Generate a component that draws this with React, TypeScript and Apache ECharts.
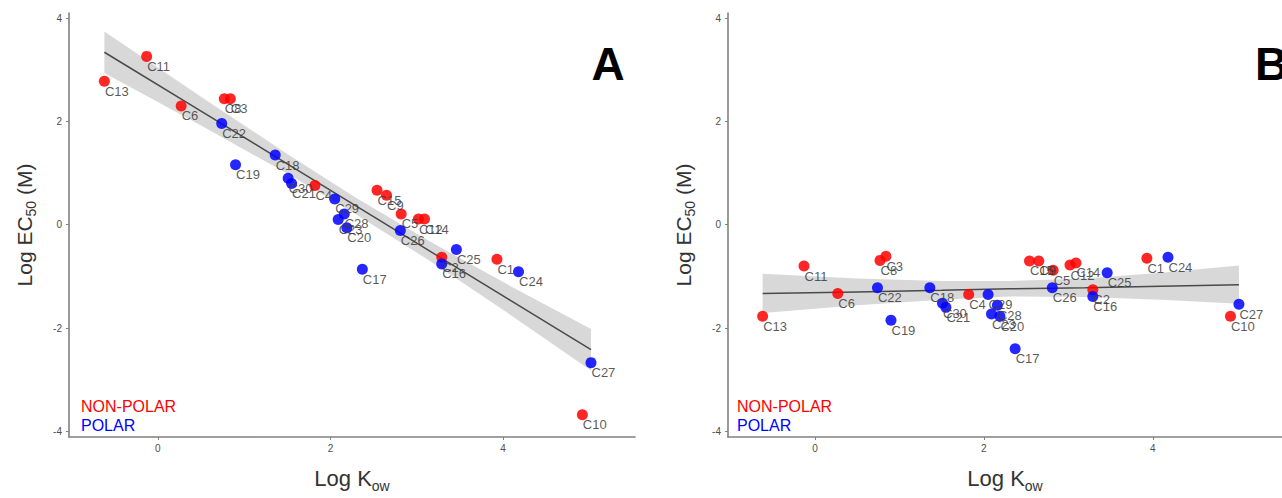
import React, { useEffect, useRef } from 'react';
import * as echarts from 'echarts';

const compounds = ['C1', 'C2', 'C3', 'C4', 'C5', 'C6', 'C8', 'C9', 'C10', 'C11', 'C12', 'C13', 'C14', 'C15', 'C16', 'C17', 'C18', 'C19', 'C20', 'C21', 'C22', 'C23', 'C24', 'C25', 'C26', 'C27', 'C28', 'C29', 'C30'];
const polarity = ['NON-POLAR', 'NON-POLAR', 'NON-POLAR', 'NON-POLAR', 'NON-POLAR', 'NON-POLAR', 'NON-POLAR', 'NON-POLAR', 'NON-POLAR', 'NON-POLAR', 'NON-POLAR', 'NON-POLAR', 'NON-POLAR', 'NON-POLAR', 'POLAR', 'POLAR', 'POLAR', 'POLAR', 'POLAR', 'POLAR', 'POLAR', 'POLAR', 'POLAR', 'POLAR', 'POLAR', 'POLAR', 'POLAR', 'POLAR', 'POLAR'];
const logKow = [3.93, 3.29, 0.84, 1.82, 2.82, 0.27, 0.77, 2.65, 4.92, -0.13, 3.02, -0.62, 3.09, 2.54, 3.29, 2.37, 1.36, 0.9, 2.19, 1.55, 0.74, 2.09, 4.18, 3.46, 2.81, 5.02, 2.16, 2.05, 1.51];
const logEC50A = [-0.67, -0.63, 2.44, 0.76, 0.21, 2.3, 2.44, 0.57, -3.68, 3.26, 0.11, 2.78, 0.11, 0.67, -0.76, -0.86, 1.35, 1.16, -0.06, 0.8, 1.96, 0.1, -0.91, -0.48, -0.11, -2.67, 0.21, 0.5, 0.9];
const logEC50B = [-0.65, -1.26, -0.61, -1.35, -0.88, -1.33, -0.69, -0.7, -1.77, -0.8, -0.78, -1.77, -0.74, -0.7, -1.39, -2.4, -1.22, -1.85, -1.77, -1.6, -1.22, -1.73, -0.63, -0.93, -1.22, -1.54, -1.56, -1.35, -1.52];

const fitX = [-0.62, 0.5, 1.5, 2.3, 3.2, 4.1, 5.02];
const fitA = [3.34, 2.2, 1.18, 0.36, -0.56, -1.48, -2.42];
const upperA = [3.74, 2.48, 1.37, 0.52, -0.37, -1.2, -2.02];
const lowerA = [2.94, 1.92, 0.99, 0.2, -0.75, -1.76, -2.82];
const fitB = [-1.33, -1.3, -1.27, -1.24, -1.22, -1.19, -1.16];
const upperB = [-0.95, -1.04, -1.09, -1.09, -1.04, -0.93, -0.79];
const lowerB = [-1.71, -1.56, -1.45, -1.39, -1.4, -1.45, -1.53];

const xTicks = [0, 2, 4];
const yTicks = [-4, -2, 0, 2, 4];
const panelLetters = ['A', 'B'];
const legendLabels = ['NON-POLAR', 'POLAR'];

const RED = '#ff0000';
const BLUE = '#0000ff';
const FONT = 'Liberation Sans, Arial, sans-serif';

export default function App() {
  const ref = useRef<HTMLDivElement>(null);
  useEffect(() => {
    if (!ref.current) return;
    const chart = echarts.init(ref.current, null, { renderer: 'svg' });

    const grids = [
      { left: 69, top: 13, width: 566, height: 431 },
      { left: 728, top: 13, width: 566, height: 431 },
    ];

    const axisLine = { show: true, onZero: false, lineStyle: { color: '#808080', width: 1.6 } };
    const xAxes = grids.map((_, i) => ({
      type: 'value',
      gridIndex: i,
      min: -1.03,
      max: 5.53,
      axisLine,
      axisTick: { show: true, length: 3, customValues: xTicks, lineStyle: { color: '#808080' } },
      axisLabel: { customValues: xTicks, color: '#4d4d4d', fontSize: 10, fontFamily: FONT, margin: 6 },
      splitLine: { show: false },
      name: 'Log K{sub|ow}',
      nameLocation: 'middle',
      nameGap: 26,
      nameTextStyle: {
        fontSize: 22,
        color: '#333',
        fontFamily: FONT,
        lineHeight: 30,
        verticalAlign: 'top',
        rich: { sub: { fontSize: 14, color: '#333', fontFamily: FONT, verticalAlign: 'bottom', lineHeight: 30 } },
      },
    }));
    const yAxes = grids.map((_, i) => ({
      type: 'value',
      gridIndex: i,
      min: -4.11,
      max: 4.1,
      axisLine,
      axisTick: { show: true, length: 3, customValues: yTicks, lineStyle: { color: '#808080' } },
      axisLabel: { customValues: yTicks, color: '#4d4d4d', fontSize: 10, fontFamily: FONT, margin: 7 },
      splitLine: { show: false },
      name: 'Log EC{sub|50} (M)',
      nameLocation: 'middle',
      nameGap: 31,
      nameTextStyle: {
        fontSize: 21,
        color: '#333',
        fontFamily: FONT,
        lineHeight: 28,
        rich: { sub: { fontSize: 14, color: '#333', fontFamily: FONT, verticalAlign: 'bottom', lineHeight: 28 } },
      },
    }));

    const ySets = [logEC50A, logEC50B];
    const fits = [fitA, fitB];
    const uppers = [upperA, upperB];
    const lowers = [lowerA, lowerB];

    const series: any[] = [];
    [0, 1].forEach((p) => {
      const up = uppers[p];
      const lo = lowers[p];
      series.push({
        type: 'custom',
        xAxisIndex: p,
        yAxisIndex: p,
        silent: true,
        z: 1,
        data: [[fitX[0], fits[p][0]]],
        renderItem: (_params: any, api: any) => {
          const pts: number[][] = [];
          for (let i = 0; i < fitX.length; i++) pts.push(api.coord([fitX[i], up[i]]));
          for (let i = fitX.length - 1; i >= 0; i--) pts.push(api.coord([fitX[i], lo[i]]));
          return { type: 'polygon', shape: { points: pts }, style: { fill: '#d4d4d4', opacity: 0.9 } };
        },
      });
      series.push({
        type: 'line',
        xAxisIndex: p,
        yAxisIndex: p,
        z: 2,
        symbol: 'none',
        silent: true,
        data: fitX.map((x, i) => [x, fits[p][i]]),
        lineStyle: { color: '#4a4a4a', width: 1.5 },
      });
      legendLabels.forEach((grp) => {
        const data = compounds
          .map((c, i) => ({ name: c, value: [logKow[i], ySets[p][i]], grp: polarity[i] }))
          .filter((d) => d.grp === grp)
          .map((d) => ({ name: d.name, value: d.value }));
        series.push({
          type: 'scatter',
          xAxisIndex: p,
          yAxisIndex: p,
          z: 3,
          symbolSize: 11,
          itemStyle: { color: grp === 'POLAR' ? BLUE : RED, opacity: 0.85 },
          data,
          label: {
            show: true,
            formatter: '{b}',
            position: 'right',
            offset: [-10, 10],
            color: '#3a3a3a',
            fontSize: 13,
            fontFamily: FONT,
          },
        });
      });
    });

    const graphics: any[] = [];
    panelLetters.forEach((L, p) => {
      graphics.push({
        type: 'text',
        style: {
          text: L,
          x: p === 0 ? 608 : 1255,
          y: 64,
          textAlign: p === 0 ? 'center' : 'left',
          textVerticalAlign: 'middle',
          fontSize: 46,
          fontWeight: 'bold',
          fontFamily: FONT,
          fill: '#000',
        },
      });
      legendLabels.forEach((t, k) => {
        graphics.push({
          type: 'text',
          style: {
            text: t,
            x: p === 0 ? 81 : 737,
            y: 406 + k * 19,
            textAlign: 'left',
            textVerticalAlign: 'middle',
            fontSize: 16,
            fontFamily: FONT,
            fill: k === 0 ? RED : BLUE,
          },
        });
      });
    });

    chart.setOption({
      animation: false,
      backgroundColor: '#fff',
      grid: grids,
      xAxis: xAxes,
      yAxis: yAxes,
      series,
      graphic: graphics,
    });
    return () => chart.dispose();
  }, []);
  return <div ref={ref} style={{ position: 'fixed', left: 0, top: 0, width: 1282, height: 498 }} />;
}
